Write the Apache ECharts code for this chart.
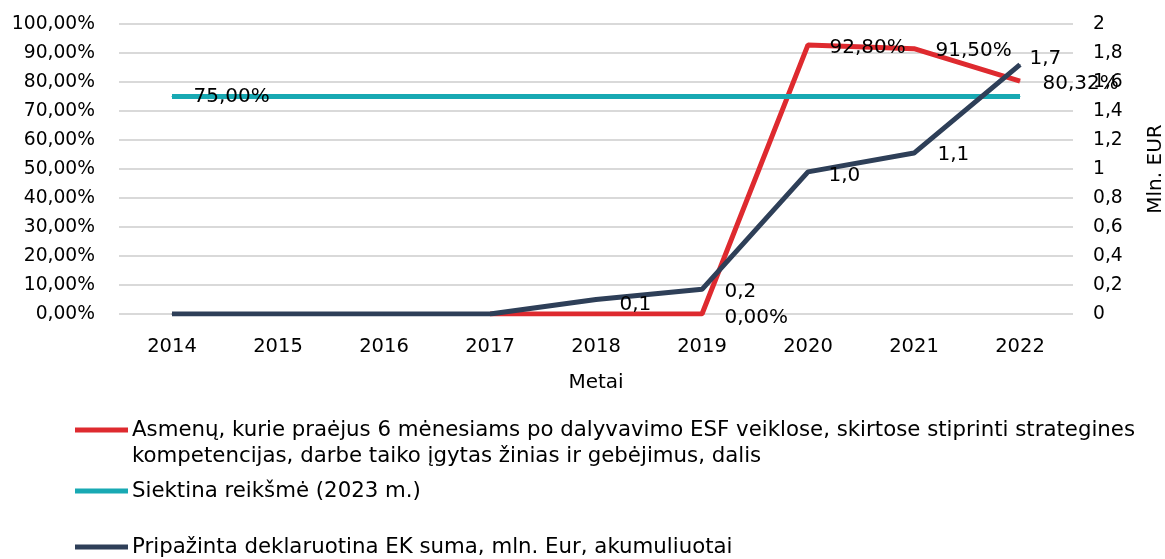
<!DOCTYPE html>
<html>
<head>
<meta charset="utf-8">
<script src="https://cdn.jsdelivr.net/npm/echarts@6/dist/echarts.min.js"></script>
<style>html,body{margin:0;padding:0;background:#fff}#c{width:1165px;height:559px}</style>
</head>
<body>
<div id="c"></div>
<script>
const categories = ['2014','2015','2016','2017','2018','2019','2020','2021','2022'];
const shareValues = [null, null, null, 0, 0, 0, 92.8, 91.5, 80.32];
const targetValues = [75, 75, 75, 75, 75, 75, 75, 75, 75];
const sumValues = [0, 0, 0, 0, 0.1, 0.17, 0.98, 1.11, 1.72];
const shareLabelIdx = [5, 6, 7, 8];
const targetLabelIdx = [0];
const sumLabelIdx = [4, 5, 6, 7, 8];
const seriesNames = [
  'Asmenų, kurie praėjus 6 mėnesiams po dalyvavimo ESF veiklose, skirtose stiprinti strategines',
  'Siektina reikšmė (2023 m.)',
  'Pripažinta deklaruotina EK suma, mln. Eur, akumuliuotai'
];
const shareNameLine2 = 'kompetencijas, darbe taiko įgytas žinias ir gebėjimus, dalis';

const FONT = 'DejaVu Sans';
const RED = '#DE2A2F', TEAL = '#18A9B3', NAVY = '#2E3F58';

const shareOffsets = {5:[22,4],6:[21,3],7:[21,2],8:[22,3]};
const targetOffsets = {0:[21,0]};
const sumOffsets = {4:[23,5],5:[22,2],6:[20,4],7:[23,2],8:[9,-6]};

function pct(v){ return v.toFixed(2).replace('.', ',') + '%'; }
function dec1(v){ return v.toFixed(1).replace('.', ','); }

function buildData(values, labelIdx, offsets, fmt){
  return values.map((v, i) => {
    const show = labelIdx.indexOf(i) >= 0 && v !== null;
    return {
      value: v,
      label: {
        show: show,
        position: 'right',
        distance: 0,
        offset: offsets[i] || [0,0],
        formatter: () => fmt(v),
        color: '#000',
        fontFamily: FONT,
        fontSize: 20
      }
    };
  });
}

const chart = echarts.init(document.getElementById('c'), null, {renderer: 'canvas'});
const legendCommon = {
  orient: 'vertical', left: 70, icon: 'rect', itemWidth: 53, itemHeight: 5, itemGap: 0,
  selectedMode: false,
  textStyle: {fontFamily: FONT, fontSize: 21.3, lineHeight: 24, color: '#000', padding: [0,0,0,-1]}
};
chart.setOption({
  animation: false,
  backgroundColor: '#fff',
  textStyle: {fontFamily: FONT},
  grid: {left: 119, right: 92, top: 24, bottom: 245, containLabel: false, outerBoundsMode: 'none'},
  legend: [
    Object.assign({}, legendCommon, {top: 413, data: [{name: seriesNames[0], itemStyle: {color: RED}}]}),
    Object.assign({}, legendCommon, {top: 474, data: [{name: seriesNames[1], itemStyle: {color: TEAL}}]}),
    Object.assign({}, legendCommon, {top: 530, data: [{name: seriesNames[2], itemStyle: {color: NAVY}}]})
  ],
  graphic: [{
    type: 'text', left: 132, top: 446,
    style: {text: shareNameLine2, fontFamily: FONT, fontSize: 21.3, fill: '#000'}
  }],
  xAxis: {
    type: 'category', data: categories, boundaryGap: true,
    axisLine: {show: false}, axisTick: {show: false},
    axisLabel: {color: '#000', fontSize: 19.5, fontFamily: FONT, margin: 23},
    name: 'Metai', nameLocation: 'middle', nameGap: 59,
    nameTextStyle: {color: '#000', fontSize: 20, fontFamily: FONT}
  },
  yAxis: [{
    type: 'value', min: 0, max: 100, interval: 10,
    axisLine: {show: false}, axisTick: {show: false},
    splitLine: {lineStyle: {color: '#D9D9D9', width: 2}},
    axisLabel: {color: '#000', fontSize: 18.7, fontFamily: FONT, margin: 24, formatter: v => pct(v)}
  }, {
    type: 'value', min: 0, max: 2, interval: 0.2,
    axisLine: {show: false}, axisTick: {show: false}, splitLine: {show: false},
    axisLabel: {color: '#000', fontSize: 18.7, fontFamily: FONT, margin: 20,
      formatter: v => String(Math.round(v*10)/10).replace('.', ',')},
    name: 'Mln. EUR', nameLocation: 'middle', nameRotate: 90, nameGap: 73,
    nameTextStyle: {color: '#000', fontSize: 20, fontFamily: FONT}
  }],
  series: [{
    name: seriesNames[0], type: 'line', yAxisIndex: 0,
    data: buildData(shareValues, shareLabelIdx, shareOffsets, pct),
    symbol: 'circle', symbolSize: 1, showSymbol: true, itemStyle: {color: RED},
    lineStyle: {color: RED, width: 5}, z: 2
  }, {
    name: seriesNames[1], type: 'line', yAxisIndex: 0,
    data: buildData(targetValues, targetLabelIdx, targetOffsets, pct),
    symbol: 'circle', symbolSize: 1, showSymbol: true, itemStyle: {color: TEAL},
    lineStyle: {color: TEAL, width: 5}, z: 3
  }, {
    name: seriesNames[2], type: 'line', yAxisIndex: 1,
    data: buildData(sumValues, sumLabelIdx, sumOffsets, dec1),
    symbol: 'circle', symbolSize: 1, showSymbol: true, itemStyle: {color: NAVY},
    lineStyle: {color: NAVY, width: 5}, z: 4
  }]
});
</script>
</body>
</html>
